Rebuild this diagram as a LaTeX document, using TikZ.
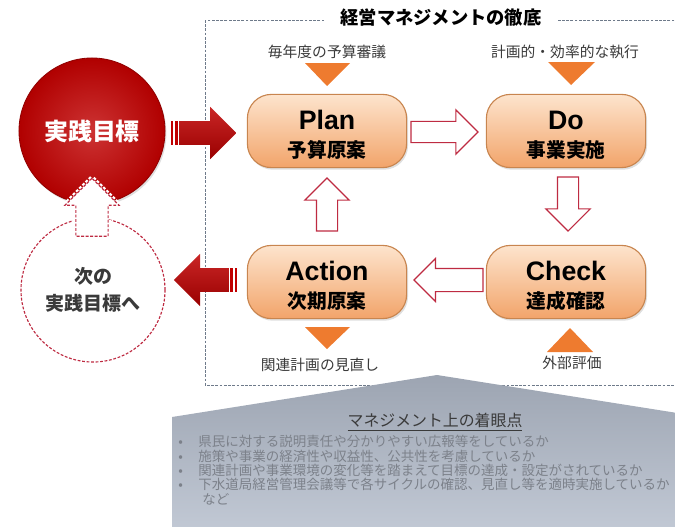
\documentclass[tikz,border=0pt]{standalone}
\usepackage{fontspec}
\setmainfont{Noto Sans CJK JP}
\newfontfamily\latfont{Liberation Sans}
\usepackage{tikz}
\usetikzlibrary{shapes.arrows,calc,shadows}

\definecolor{goalred}{HTML}{C00000}
\definecolor{linered}{HTML}{BE2B42}
\definecolor{pilltop}{HTML}{FDE4CD}
\definecolor{pillbot}{HTML}{F2A46A}
\definecolor{pillline}{HTML}{C8854F}
\definecolor{triorange}{HTML}{EE7B2F}
\definecolor{framegray}{HTML}{6E7A8A}
\definecolor{panelblue}{HTML}{B2BBCA}
\definecolor{paneltext}{HTML}{7C818A}
\definecolor{labelgray}{HTML}{3A3A3A}

\newcommand{\pillhead}[1]{{\latfont\fontsize{19}{20}\selectfont\rule{0pt}{19.5pt}#1}}

\begin{document}
\begin{tikzpicture}[x=0.025cm,y=-0.025cm,
  pill/.style={rounded corners=0.6cm,minimum width=3.98cm,minimum height=1.83cm,
    draw=pillline,line width=0.8pt,top color=pilltop,bottom color=pillbot,
    drop shadow={opacity=0.25,shadow xshift=1pt,shadow yshift=-1.5pt},
    align=center,inner sep=0pt,font=\bfseries\fontsize{14}{20}\selectfont},
  hollow/.style={single arrow,draw=linered,fill=white,line width=0.8pt,inner xsep=0pt,
    inner ysep=0.25cm,single arrow head extend=0.29cm,anchor=tip},
  redarrow/.style={single arrow,top color=goalred!85!white,bottom color=goalred!80!black,
    inner xsep=0pt,inner ysep=0.2875cm,single arrow head extend=0.36cm,anchor=tip},
  stripe/.style={fill=goalred},
  tri/.style={fill=triorange},
  smalllbl/.style={text=labelgray,font=\fontsize{10.5}{12}\selectfont},
  dashred/.style={draw=linered,line width=0.8pt,dash pattern=on 2pt off 1.2pt}]

  \useasboundingbox (0,0) rectangle (675,526);
  \clip (0,0) rectangle (675,526);

  % frame of the cycle
  \draw[framegray,line width=0.6pt,dash pattern=on 2pt off 1pt] (205,20) rectangle (678,385);
  \node[fill=white,inner xsep=0.4cm,font=\bfseries\fontsize{13}{15}\selectfont] (title) at (441,18) {経営マネジメントの徹底};

  % goals
  \node[circle,minimum size=3.65cm,draw=goalred!75!black,line width=0.6pt,
    inner color=goalred!80!white,outer color=goalred!92!black,
    drop shadow={opacity=0.25,shadow xshift=1pt,shadow yshift=-1.5pt},
    text=white,font=\bfseries\fontsize{17}{19}\selectfont] (goal) at (92,131) {実践目標};
  \node[circle,minimum size=3.6cm,dashred,fill=white,align=center,text=labelgray,
    font=\bfseries\fontsize{13.5}{19}\selectfont] (nextgoal) at (93,290) {次の\\実践目標へ};
  \node[single arrow,rotate=90,anchor=tip,inner xsep=0pt,inner ysep=0.3875cm,minimum height=1.45cm,
    single arrow head extend=0.275cm,fill=white,dashred,
    preaction={draw=white,line width=4pt}] (uparr) at ($(goal.south)+(0,-27)$) {};

  % PDCA
  \node[pill] (plan) at (327,131) {\pillhead{Plan}\\予算原案};
  \node[pill] (do) at (566,131) {\pillhead{Do}\\事業実施};
  \node[pill] (check) at (566,282) {\pillhead{Check}\\達成確認};
  \node[pill] (action) at (327,282) {\pillhead{Action}\\次期原案};

  \node[hollow,minimum height=1.675cm] (pd) at ($(do.west)+(-7,1)$) {};
  \node[hollow,rotate=-90,minimum height=1.35cm] (dc) at ($(check.north)+(2,-13)$) {};
  \node[hollow,rotate=180,minimum height=1.725cm,inner ysep=0.275cm,
    single arrow head extend=0.25cm] (ca) at ($(action.east)+(6,-2)$) {};
  \node[hollow,rotate=90,minimum height=1.325cm] (ap) at ($(plan.south)+(0,9)$) {};

  % red arrows in and out
  \node[redarrow,minimum height=1.425cm] (inarr) at ($(plan.west)+(-10,2)$) {};
  \fill[stripe] ($(inarr.before tail)+(-8,0)$) rectangle ($(inarr.after tail)+(-6,0)$);
  \fill[stripe] ($(inarr.before tail)+(-4,0)$) rectangle ($(inarr.after tail)+(-1,0)$);
  \node[redarrow,rotate=180,minimum height=1.375cm] (outarr) at ($(nextgoal.east)+(8,-10)$) {};
  \fill[stripe] ($(outarr.before tail)+(1,0)$) rectangle ($(outarr.after tail)+(4,0)$);
  \fill[stripe] ($(outarr.before tail)+(6,0)$) rectangle ($(outarr.after tail)+(8,0)$);

  % inputs and outputs
  \node[smalllbl] (lplan) at (327,52) {毎年度の予算審議};
  \node[smalllbl] (ldo) at (565,52) {計画的・効率的な執行};
  \node[smalllbl] (lact) at (320,365) {関連計画の見直し};
  \node[smalllbl] (lchk) at (572,363) {外部評価};
  \fill[tri] (305,63) -- (350,63) -- (327,86) -- cycle;
  \fill[tri] (548,62) -- (595,62) -- (571,85) -- cycle;
  \fill[tri] (305,327) -- (350,327) -- (327,349) -- cycle;
  \fill[tri] (547,352) -- (593,352) -- (570,328) -- cycle;

  % points of view panel
  \shade[top color=panelblue!88!black,bottom color=panelblue!80!white]
    (172,530) -- (172,417) -- (437,375) -- (690,415) -- (690,530) -- cycle;
  \node[text=labelgray,font=\fontsize{11.3}{13}\selectfont] (ptitle) at (435,422) {\underline{マネジメント上の着眼点}};
  \node[anchor=north west,inner sep=0pt,align=left,text=paneltext,
    font=\fontsize{9.6}{10.2}\selectfont] (points) at (178,435) {%
    \makebox[0.5cm][l]{•}県民に対する説明責任や分かりやすい広報等をしているか\\
    \makebox[0.5cm][l]{•}施策や事業の経済性や収益性、公共性を考慮しているか\\
    \makebox[0.5cm][l]{•}関連計画や事業環境の変化等を踏まえて目標の達成・設定がされているか\\
    \makebox[0.5cm][l]{•}下水道局経営管理会議等で各サイクルの確認、見直し等を適時実施しているか\\
    \hspace{0.6cm}など};
\end{tikzpicture}
\end{document}
